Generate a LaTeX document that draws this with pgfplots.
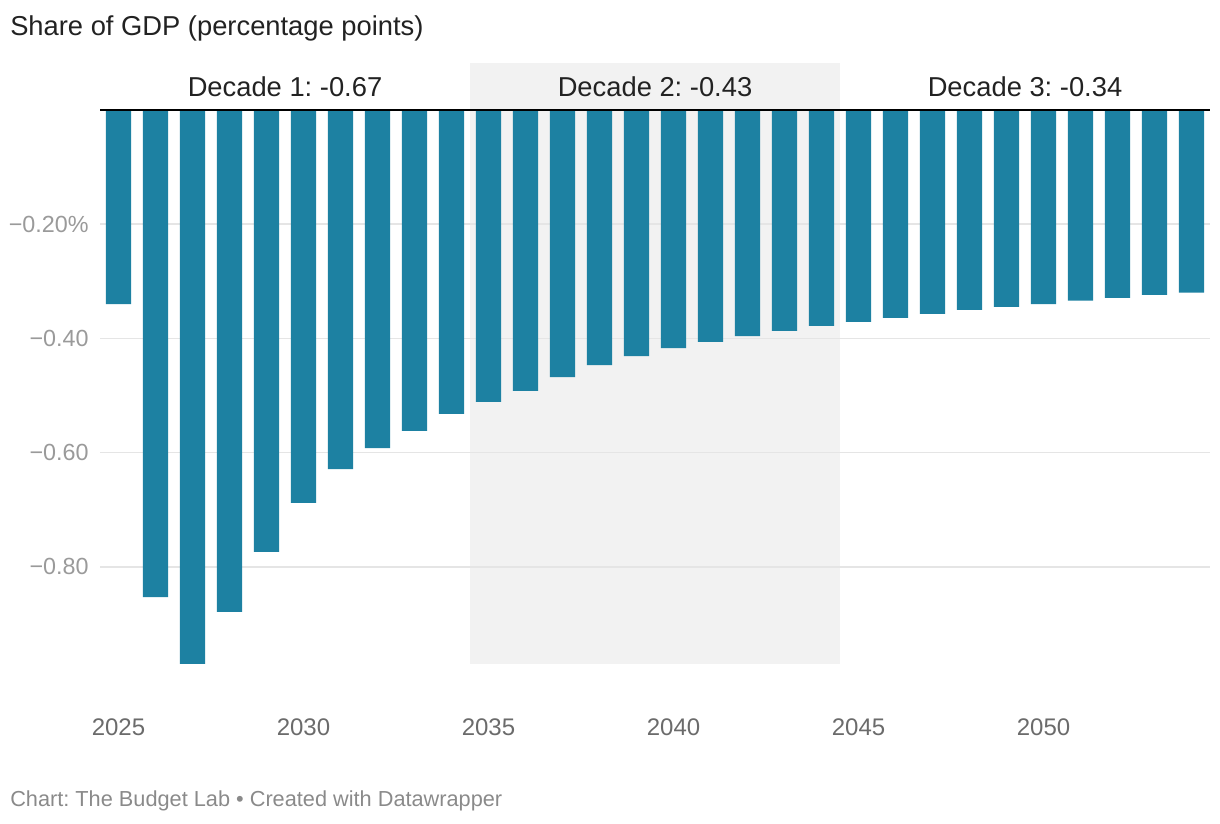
\documentclass[border=0pt]{standalone}
\usepackage{pgfplots}
\pgfplotsset{compat=1.18}
\usepackage{fontspec}
\setmainfont{Liberation Sans}
\frenchspacing
\definecolor{barc}{HTML}{1D81A2}
\definecolor{shadec}{HTML}{F2F2F2}
\definecolor{gridc}{HTML}{E5E5E5}
\definecolor{ytc}{HTML}{9A9A9A}
\definecolor{xtc}{HTML}{6B6B6B}
\definecolor{titlec}{HTML}{222222}
\definecolor{footc}{HTML}{8A8A8A}
\begin{document}
\begin{tikzpicture}
\path (0pt,0pt) rectangle (915pt,618pt);
\node[anchor=west, text=titlec, font=\fontsize{20.5}{24}\selectfont, inner sep=0pt] at (7.5pt,597pt) {Share of GDP (percentage points)};
\node[anchor=west, text=footc, font=\fontsize{16.3}{19}\selectfont, inner sep=0pt] at (7.5pt,17.5pt) {Chart: The Budget Lab • Created with Datawrapper};
\begin{axis}[
  at={(75pt,107.25pt)}, anchor=south west,
  scale only axis, width=832.5pt, height=463.5pt,
  xmin=2024.5, xmax=2054.5, ymin=-1.0, ymax=0.0823,
  axis line style={draw=none},
  set layers,
  xtick={2025,2030,2035,2040,2045,2050},
  xticklabels={2025,2030,2035,2040,2045,2050},
  ytick={-0.8,-0.6,-0.4,-0.2},
  yticklabels={−0.80,−0.60,−0.40,−0.20\%},
  ymajorgrids, major grid style={draw=gridc, line width=1.2pt},
  tick style={draw=none},
  xticklabel style={text=xtc, font=\fontsize{18}{21}\selectfont, yshift=-25pt},
  yticklabel style={text=ytc, font=\fontsize{17.5}{20}\selectfont, anchor=east, xshift=-5pt},
  clip=false,
]
\begin{pgfonlayer}{axis background}
\fill[shadec] (axis cs:2034.5,-0.97) rectangle (axis cs:2044.5,0.0823);
\end{pgfonlayer}
\addplot[ybar, bar width=0.68, fill=barc, draw=none] coordinates {
(2025,-0.340) (2026,-0.853) (2027,-0.970) (2028,-0.879) (2029,-0.774)
(2030,-0.688) (2031,-0.629) (2032,-0.592) (2033,-0.562) (2034,-0.532)
(2035,-0.511) (2036,-0.492) (2037,-0.468) (2038,-0.447) (2039,-0.431)
(2040,-0.417) (2041,-0.406) (2042,-0.396) (2043,-0.387) (2044,-0.378)
(2045,-0.371) (2046,-0.364) (2047,-0.357) (2048,-0.350) (2049,-0.345)
(2050,-0.340) (2051,-0.334) (2052,-0.329) (2053,-0.324) (2054,-0.320)};
\draw[black, line width=1.5pt] (axis cs:2024.5,0) -- (axis cs:2054.5,0);
\node[text=titlec, font=\fontsize{20.5}{24}\selectfont] at (axis cs:2029.5,0.040) {Decade 1: -0.67};
\node[text=titlec, font=\fontsize{20.5}{24}\selectfont] at (axis cs:2039.5,0.040) {Decade 2: -0.43};
\node[text=titlec, font=\fontsize{20.5}{24}\selectfont] at (axis cs:2049.5,0.040) {Decade 3: -0.34};
\end{axis}
\end{tikzpicture}
\end{document}
